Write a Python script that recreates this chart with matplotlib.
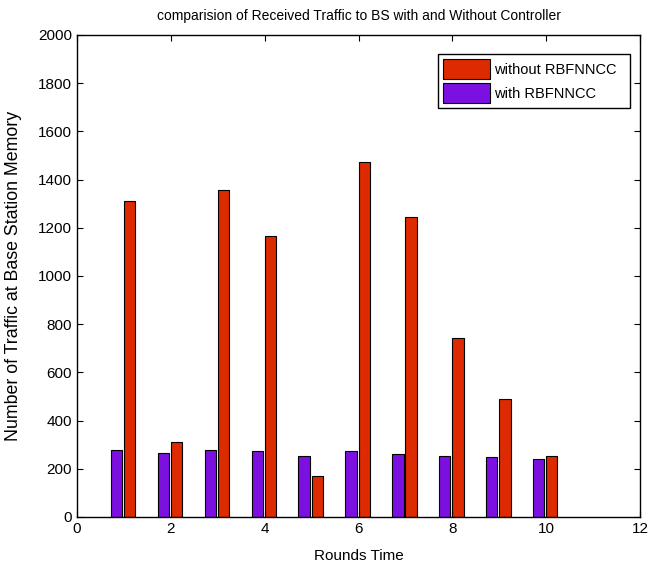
import matplotlib
matplotlib.use("Agg")
import matplotlib.pyplot as plt
import numpy as np

plt.rcParams['font.family'] = ['Liberation Sans', 'DejaVu Sans']

# data
rounds = np.arange(1, 11)
with_ctrl = [278, 266, 278, 272, 254, 272, 260, 254, 249, 242]
without_ctrl = [1313, 312, 1357, 1168, 172, 1473, 1246, 741, 489, 254]

red = '#dd2a00'
purple = '#7b10e0'

fig = plt.figure(figsize=(6.65, 5.69), dpi=100)
ax = fig.add_axes([0.1158, 0.0914, 0.8466, 0.8471])

w = 0.24
ax.bar(rounds + 0.12, without_ctrl, width=w, color=red, edgecolor='black',
       linewidth=0.8, label='without RBFNNCC')
ax.bar(rounds - 0.16, with_ctrl, width=w, color=purple, edgecolor='black',
       linewidth=0.8, label='with RBFNNCC')

ax.set_xlim(0, 12)
ax.set_ylim(0, 2000)
ax.set_xticks(np.arange(0, 13, 2))
ax.set_yticks(np.arange(0, 2001, 200))
ax.tick_params(direction='in', top=True, right=True, labelsize=11, length=4)
for s in ax.spines.values():
    s.set_linewidth(1.0)

ax.set_xlabel('Rounds Time', fontsize=11)
ax.xaxis.set_label_coords(0.5, -0.066)
ax.set_ylabel('Number of Traffic at Base Station Memory', fontsize=12.8)
ax.yaxis.set_label_coords(-0.097, 0.5)
ax.set_title('comparision of Received Traffic to BS with and Without Controller',
             fontsize=10, pad=11)

# legend box stretched to the width used in the reference
leg = ax.legend(loc='upper left', bbox_to_anchor=(0.641, 0.9606, 0.341, 0),
                mode='expand', fontsize=10.5,
                fancybox=False, edgecolor='black', framealpha=1,
                handlelength=3.2, handleheight=1.7, handletextpad=0.3,
                borderpad=0.35, labelspacing=0.3, borderaxespad=0)
leg.get_frame().set_linewidth(1.0)

fig.savefig('out.png', dpi=100)
